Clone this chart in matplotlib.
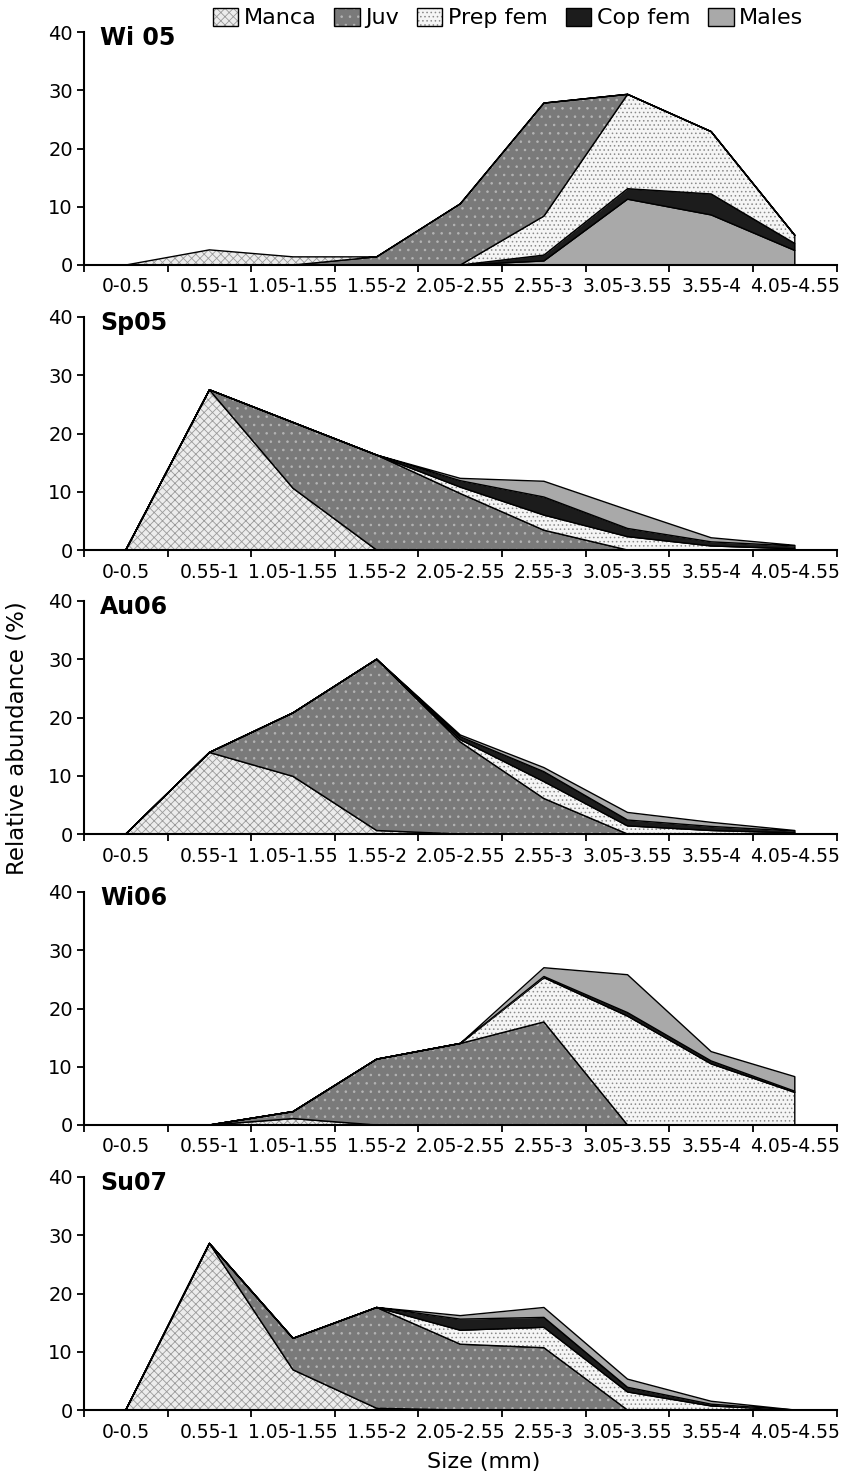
"""
Abundancia relativa por talla y estadio en cinco muestreos (áreas apiladas).
"""

import numpy as np
import matplotlib
matplotlib.use('Agg')
import matplotlib.pyplot as plt
from matplotlib.patches import Patch

# Datos
tallas = ['0-0.5', '0.55-1', '1.05-1.55', '1.55-2', '2.05-2.55',
          '2.55-3', '3.05-3.55', '3.55-4', '4.05-4.55']
muestreos = ['Wi 05', 'Sp05', 'Au06', 'Wi06', 'Su07']
series = ['Manca', 'Juv', 'Prep fem', 'Cop fem', 'Males']

manca_wi05 = [0, 2.6, 1.4, 0, 0, 0, 0, 0, 0]
juv_wi05 = [0, 0, 0, 1.4, 10.5, 19.4, 0, 0, 0]
prep_wi05 = [0, 0, 0, 0, 0, 6.7, 16.2, 10.7, 1.4]
cop_wi05 = [0, 0, 0, 0, 0, 1.0, 1.8, 3.6, 1.2]
males_wi05 = [0, 0, 0, 0, 0, 0.7, 11.3, 8.6, 2.5]

manca_sp05 = [0, 27.5, 10.6, 0, 0, 0, 0, 0, 0]
juv_sp05 = [0, 0, 11.3, 16.3, 9.7, 3.4, 0, 0, 0]
prep_sp05 = [0, 0, 0, 0, 1.1, 2.6, 2.3, 0.7, 0.2]
cop_sp05 = [0, 0, 0, 0, 1.1, 3.1, 1.4, 0.7, 0.5]
males_sp05 = [0, 0, 0, 0, 0.4, 2.7, 3.2, 0.7, 0.1]

manca_au06 = [0, 14.0, 9.9, 0.6, 0, 0, 0, 0, 0]
juv_au06 = [0, 0, 10.9, 29.4, 15.8, 6.1, 0, 0, 0]
prep_au06 = [0, 0, 0, 0, 0.4, 2.9, 1.4, 0.6, 0.2]
cop_au06 = [0, 0, 0, 0, 0.5, 1.7, 1.0, 0.7, 0.3]
males_au06 = [0, 0, 0, 0, 0.3, 0.7, 1.3, 0.7, 0.1]

manca_wi06 = [0, 0, 1.1, 0, 0, 0, 0, 0, 0]
juv_wi06 = [0, 0, 1.2, 11.3, 14.0, 17.7, 0, 0, 0]
prep_wi06 = [0, 0, 0, 0, 0, 7.6, 18.7, 10.5, 5.6]
cop_wi06 = [0, 0, 0, 0, 0, 0.2, 0.6, 0.5, 0.2]
males_wi06 = [0, 0, 0, 0, 0, 1.5, 6.5, 1.6, 2.5]

manca_su07 = [0, 28.6, 6.9, 0.3, 0, 0, 0, 0, 0]
juv_su07 = [0, 0, 5.4, 17.3, 11.3, 10.7, 0, 0, 0]
prep_su07 = [0, 0, 0, 0, 2.4, 3.5, 3.1, 0.7, 0]
cop_su07 = [0, 0, 0, 0, 1.9, 1.7, 0.8, 0.3, 0]
males_su07 = [0, 0, 0, 0, 0.6, 1.7, 1.4, 0.5, 0]

datos = {
    'Wi 05': [manca_wi05, juv_wi05, prep_wi05, cop_wi05, males_wi05],
    'Sp05': [manca_sp05, juv_sp05, prep_sp05, cop_sp05, males_sp05],
    'Au06': [manca_au06, juv_au06, prep_au06, cop_au06, males_au06],
    'Wi06': [manca_wi06, juv_wi06, prep_wi06, cop_wi06, males_wi06],
    'Su07': [manca_su07, juv_su07, prep_su07, cop_su07, males_su07],
}

# En Wi 05 el apilado va al revés (Males abajo)
orden = {m: [0, 1, 2, 3, 4] for m in muestreos}
orden['Wi 05'] = [4, 3, 2, 1, 0]

# Relleno de cada serie: color de fondo, trama y color de trama
estilos = {
    'Manca': ('#ececec', 'xxxx', '#9a9a9a'),
    'Juv': ('#7a7a7a', '..', '#b5b5b5'),
    'Prep fem': ('#f5f5f5', '....', '#8a8a8a'),
    'Cop fem': ('#1c1c1c', None, '#1c1c1c'),
    'Males': ('#a9a9a9', None, '#a9a9a9'),
}

plt.rcParams['hatch.linewidth'] = 0.6

W, H = 843, 1477
fig = plt.figure(figsize=(W / 100, H / 100), dpi=100)

ejes_y = [265, 550, 834, 1125, 1410]   # posición del eje x de cada panel (px)
x = np.arange(len(tallas))

for i, m in enumerate(muestreos):
    ax = fig.add_axes([84 / W, 1 - ejes_y[i] / H, 752.6 / W, 233 / H])
    base = np.zeros(len(tallas))
    for k in orden[m]:
        top = base + np.array(datos[m][k])
        fc, trama, hc = estilos[series[k]]
        ax.fill_between(x, base, top, facecolor=fc, edgecolor=hc,
                        hatch=trama, linewidth=0)
        ax.fill_between(x, base, top, facecolor='none', edgecolor='black',
                        linewidth=1.0)
        base = top

    ax.set_xlim(-0.5, 8.5)
    ax.set_ylim(0, 40)
    ax.set_xticks(x)
    ax.set_xticklabels(tallas, fontsize=13.5)
    ax.set_xticks(np.arange(-0.5, 9), minor=True)
    ax.tick_params(axis='x', which='major', length=0, pad=9)
    ax.tick_params(axis='x', which='minor', length=5, width=1.3, direction='out')
    ax.set_yticks([0, 10, 20, 30, 40])
    ax.tick_params(axis='y', length=5, width=1.3, pad=3, labelsize=14)
    for lado in ['top', 'right']:
        ax.spines[lado].set_visible(False)
    for lado in ['left', 'bottom']:
        ax.spines[lado].set_linewidth(1.5)
    ax.text(-0.31, 39, m, fontsize=17, fontweight='bold', va='center', ha='left')

# Leyenda común arriba
handles = []
for s in series:
    fc, trama, hc = estilos[s]
    handles.append((Patch(facecolor=fc, edgecolor=hc, hatch=trama, linewidth=0),
                    Patch(facecolor='none', edgecolor='black', linewidth=1.0)))
fig.legend(handles, series, loc='center', bbox_to_anchor=(508 / W, 1 - 18 / H),
           ncol=5, frameon=False, fontsize=16, handlelength=1.15, handleheight=0.9,
           handletextpad=0.25, columnspacing=0.8, borderpad=0, borderaxespad=0)

fig.text(17 / W, 1 - 738 / H, 'Relative abundance (%)', rotation=90,
         ha='center', va='center', fontsize=16.5)
fig.text(484 / W, 1 - 1462 / H, 'Size (mm)', ha='center', va='center', fontsize=16)

fig.savefig('out.png', dpi=100)
